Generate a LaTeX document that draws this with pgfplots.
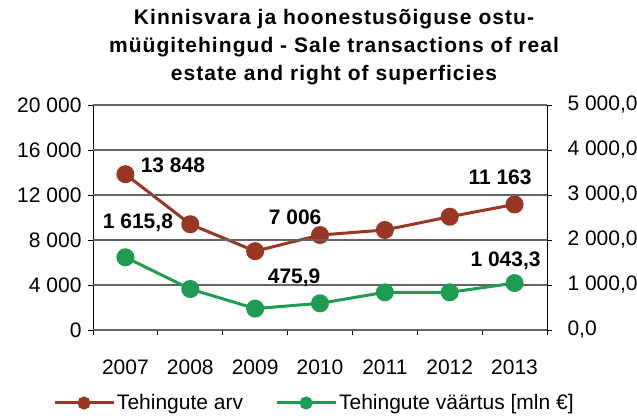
\documentclass[border=0pt]{standalone}
\usepackage{fontspec}
\setmainfont{Liberation Sans}
\newfontfamily\titlefont[LetterSpace=5]{Liberation Sans}
\usepackage{pgfplots}
\pgfplotsset{compat=1.18}
\definecolor{redl}{RGB}{152,55,35}
\definecolor{greenl}{RGB}{32,155,82}
\definecolor{gridc}{RGB}{100,100,100}
\newcommand{\tickfont}{\fontsize{21bp}{24bp}\selectfont}
\newcommand{\lblfont}{\fontsize{21bp}{24bp}\selectfont\bfseries}
\begin{document}
\begin{tikzpicture}
\useasboundingbox (0,0) rectangle (637bp,416bp);
\node[align=center, font=\titlefont\fontsize{21bp}{28bp}\selectfont\bfseries] at (334bp,369bp)
  {Kinnisvara ja hoonestusõiguse ostu-\\müügitehingud - Sale transactions of real\\estate and right of superficies};
\pgfplotsset{
  base/.style={
    scale only axis, width=454bp, height=225bp,
    at={(93bp,86bp)}, anchor=south west,
    xmin=-0.5, xmax=6.5,
    /pgf/number format/assume math mode=true,
    tick label style={font=\tickfont, color=black},
    major tick length=5bp,
    every axis plot/.append style={line width=3bp, mark=*, mark size=7.5bp},
  }
}
\begin{axis}[base,
  axis x line*=bottom, axis y line*=left,
  axis line style={black, line width=0.8bp, -},
  ymin=0, ymax=20000, ytick={0,4000,...,20000},
  scaled y ticks=false,
  yticklabel style={/pgf/number format/.cd, fixed, precision=0, 1000 sep={\ }, /tikz/.cd, xshift=-3bp},
  xtick={-0.5,0.5,...,6.5}, xticklabels={2007,2008,2009,2010,2011,2012,2013},
  x tick label as interval,
  xticklabel style={yshift=-21bp},
  tick style={black, line width=0.8bp},
  tick align=outside,
  legend columns=2,
  legend style={draw=none, fill=none, at={(-0.0881,-0.3244)}, anchor=west,
    font=\tickfont, /tikz/every even column/.append style={column sep=30bp},
    inner sep=0pt, outer sep=0pt},
  legend image code/.code={\draw[mark repeat=2,mark phase=2, mark size=5bp] plot coordinates {(0bp,0bp)(29.5bp,0bp)(59bp,0bp)};},
]
\addplot[color=redl] coordinates {(0,13848) (1,9400) (2,7006) (3,8440) (4,8890) (5,10070) (6,11163)};
\addlegendentry{Tehingute arv}
\addlegendimage{color=greenl, line width=3bp, mark=*}
\addlegendentry{Tehingute väärtus [mln €]}
\node[font=\lblfont] at (axis cs:0,13848) [xshift=47.5bp, yshift=8.5bp] {13 848};
\node[font=\lblfont] at (axis cs:2,7006) [xshift=40bp, yshift=33.5bp] {7 006};
\node[font=\lblfont] at (axis cs:6,11163) [xshift=-14.5bp, yshift=27.5bp] {11 163};
\end{axis}
\begin{axis}[base,
  axis x line=none, axis y line*=right,
  axis line style={black, line width=0.8bp, -},
  ymin=0, ymax=5000, ytick={0,1000,...,5000},
  ymajorgrids=true, major grid style={draw=gridc, line width=1.3bp},
  yticklabel style={/pgf/number format/.cd, fixed, fixed zerofill, precision=1, use comma, 1000 sep={\ }, /tikz/.cd, xshift=12bp},
  tick style={black, line width=0.8bp},
  tick align=outside,
]
\addplot[color=greenl] coordinates {(0,1615.8) (1,911) (2,475.9) (3,593) (4,837) (5,837) (6,1043.3)};
\node[font=\lblfont] at (axis cs:0,1615.8) [xshift=12.5bp, yshift=34bp] {1 615,8};
\node[font=\lblfont] at (axis cs:2,475.9) [xshift=39bp, yshift=31bp] {475,9};
\node[font=\lblfont] at (axis cs:6,1043.3) [xshift=-9bp, yshift=22bp] {1 043,3};
\end{axis}
\end{tikzpicture}
\end{document}
